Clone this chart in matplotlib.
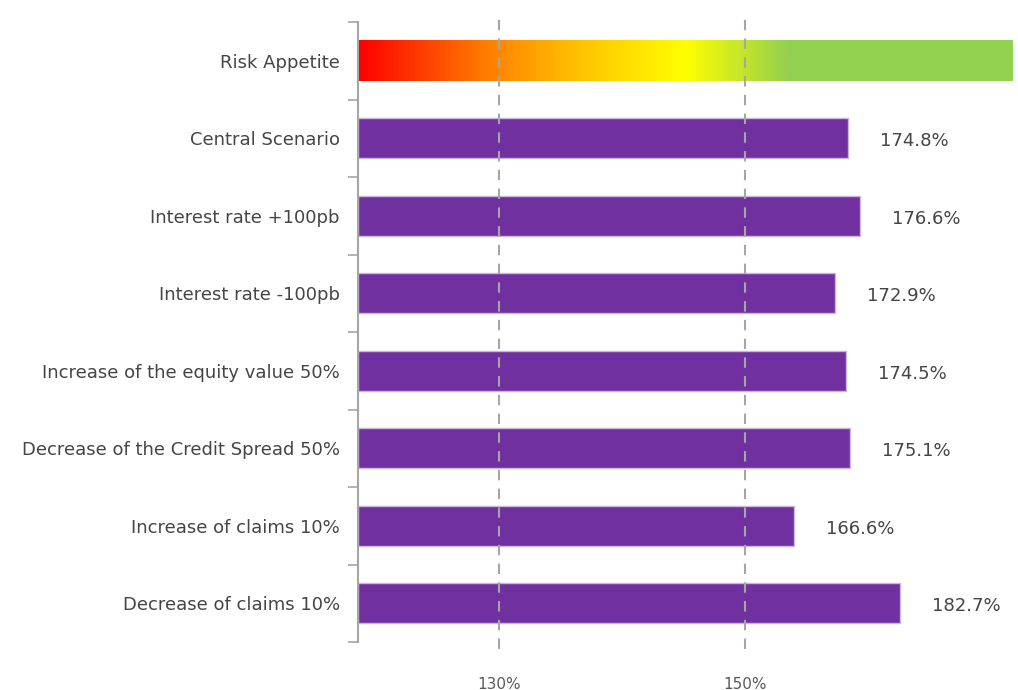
import numpy as np
import matplotlib.pyplot as plt
from matplotlib.colors import LinearSegmentedColormap

# scenario data (solvency ratio, %)
categories = ["Risk Appetite", "Central Scenario", "Interest rate +100pb", "Interest rate -100pb",
              "Increase of the equity value 50%", "Decrease of the Credit Spread 50%",
              "Increase of claims 10%", "Decrease of claims 10%"]
scenario_values = [174.8, 176.6, 172.9, 174.5, 175.1, 166.6, 182.7]
risk_band = (100, 200)
bar_base = 100
threshold_ticks = [130, 150]
threshold_labels = ["130%", "150%"]

plt.rcParams['font.family'] = ['DejaVu Sans']
text_col = '#454545'

fig = plt.figure(figsize=(10.18, 6.90), dpi=100)
ax = fig.add_axes([358 / 1018, 1 - 642 / 690, (1013 - 358) / 1018, 620 / 690])

ax.set_xlim(risk_band)
ax.set_ylim(len(categories) - 0.5, -0.5)

# risk appetite gradient bar
grad = LinearSegmentedColormap.from_list(
    'ra', [(0, '#FF0000'), (0.2, '#FF8000'), (0.33, '#FFC000'), (0.5, '#FFFF00'),
           (0.66, '#92D050'), (1, '#92D050')])
ax.imshow(np.linspace(0, 1, 512)[None, :], cmap=grad, aspect='auto',
          extent=(risk_band[0], risk_band[1], 0.26, -0.26), zorder=2)

# scenario bars
ypos = np.arange(1, len(categories))
widths = [v - bar_base for v in scenario_values]
ax.barh(ypos, widths, left=bar_base, height=0.52, color='#7030A0',
        edgecolor='#C9B6D8', linewidth=1, zorder=2)
for y, v in zip(ypos, scenario_values):
    ax.annotate(f"{v:.1f}%", xy=(v, y), xytext=(23, -2), textcoords='offset points',
                ha='left', va='center', fontsize=13, color=text_col)

# category labels and boundary ticks
ax.set_yticks(range(len(categories)))
ax.set_yticklabels(categories, fontsize=13, color=text_col)
ax.tick_params(axis='y', which='major', length=0, pad=13)
ax.set_yticks(np.arange(-0.5, len(categories)), minor=True)
ax.tick_params(axis='y', which='minor', length=7, width=1.2, color='#A6A6A6')
ax.set_xticks([])
for s in ['top', 'right', 'bottom']:
    ax.spines[s].set_visible(False)
ax.spines['left'].set_color('#A6A6A6')
ax.spines['left'].set_linewidth(1.5)

# threshold scale (separate axis, as in the source chart)
ax2 = ax.twiny()
ax2.set_xlim(118.46, 171.9)
ax2.xaxis.set_ticks_position('bottom')
ax2.set_xticks(threshold_ticks)
ax2.set_xticklabels(threshold_labels, fontsize=11, color='#595959')
ax2.tick_params(axis='x', length=0, pad=25)
for s in ax2.spines.values():
    s.set_visible(False)
for t in threshold_ticks:
    ax2.axvline(t, ymin=-0.012, ymax=1.012, color='#A6A6A6', linestyle=(0, (5, 4)),
                linewidth=1.5, clip_on=False, zorder=3)

fig.savefig("out.png", dpi=100)
